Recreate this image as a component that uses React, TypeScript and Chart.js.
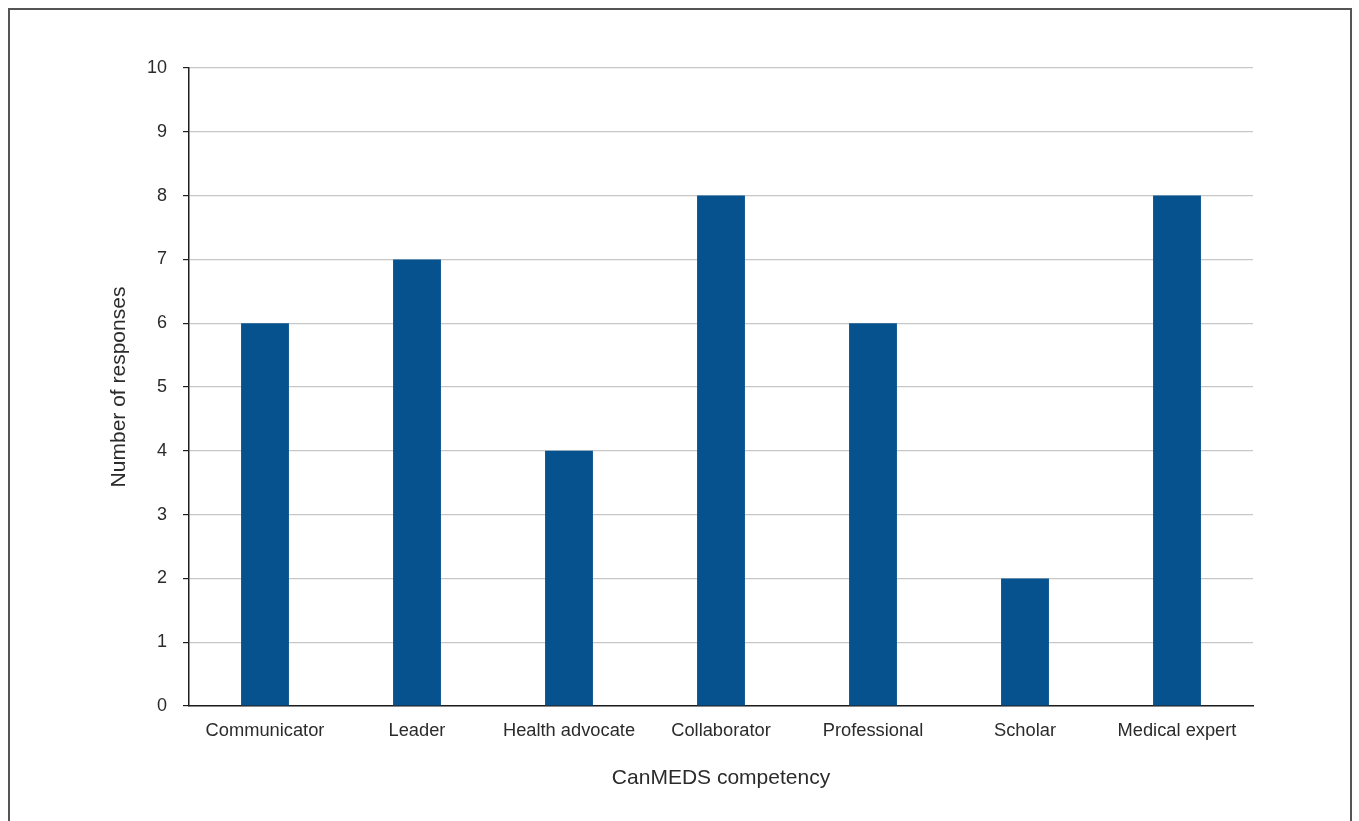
import React, { useEffect, useRef } from "react";
import { Chart, registerables } from "chart.js";

Chart.register(...registerables);

const categories = [
  "Communicator",
  "Leader",
  "Health advocate",
  "Collaborator",
  "Professional",
  "Scholar",
  "Medical expert",
];
const responses = [6, 7, 4, 8, 6, 2, 8];
const yTicks = [0, 1, 2, 3, 4, 5, 6, 7, 8, 9, 10];
const xTitle = "CanMEDS competency";
const yTitle = "Number of responses";

const FONT = "'Liberation Sans', Arial, Helvetica, sans-serif";
const TEXT = "#2b2b2b";

export default function App() {
  const ref = useRef<HTMLCanvasElement | null>(null);

  useEffect(() => {
    document.body.style.margin = "0";
    const canvas = ref.current;
    if (!canvas) return;
    const chart = new Chart(canvas, {
      type: "bar",
      data: {
        labels: categories,
        datasets: [
          {
            label: yTitle,
            data: responses,
            backgroundColor: "#06528f",
            borderWidth: 0,
            barPercentage: 0.315,
            categoryPercentage: 1,
          },
        ],
      },
      options: {
        animation: false,
        responsive: false,
        maintainAspectRatio: false,
        devicePixelRatio: 1,
        layout: { padding: { left: 103, top: 68, right: 106, bottom: 26 } },
        plugins: { legend: { display: false }, tooltip: { enabled: false } },
        scales: {
          x: {
            type: "category",
            grid: { display: true, drawOnChartArea: false, drawTicks: false },
            border: { display: true, color: "#1e1e1e", width: 1.5 },
            ticks: {
              color: TEXT,
              font: { family: FONT, size: 18.3 },
              padding: 14,
              maxRotation: 0,
              autoSkip: false,
            },
            title: {
              display: true,
              text: xTitle,
              color: TEXT,
              font: { family: FONT, size: 21 },
              padding: { top: 4, bottom: 4 },
            },
            afterFit: (s: any) => {
              s.height = 89;
            },
          },
          y: {
            min: 0,
            max: 10,
            afterBuildTicks: (s: any) => {
              s.ticks = yTicks.map((v) => ({ value: v }));
            },
            grid: {
              color: "#c8c8c8",
              lineWidth: 1.2,
              tickColor: "#1e1e1e",
              tickLength: 6,
              drawTicks: true,
            },
            border: { display: true, color: "#1e1e1e", width: 1.5 },
            ticks: {
              color: TEXT,
              font: { family: FONT, size: 18 },
              padding: 16,
            },
            title: {
              display: true,
              text: yTitle,
              color: TEXT,
              font: { family: FONT, size: 21 },
              padding: { top: 4, bottom: 4 },
            },
            afterFit: (s: any) => {
              s.width = 86;
            },
          },
        },
      },
    });
    return () => chart.destroy();
  }, []);

  return (
    <div style={{ position: "fixed", left: 0, top: 0, width: 1359, height: 821, background: "#fff" }}>
      <div
        style={{
          position: "absolute",
          left: 8,
          top: 8,
          width: 1340,
          height: 830,
          border: "2px solid #555",
          borderBottom: "none",
        }}
      />
      <canvas
        ref={ref}
        width={1359}
        height={821}
        style={{ position: "absolute", left: 0, top: 0, width: 1359, height: 821 }}
      />
    </div>
  );
}
